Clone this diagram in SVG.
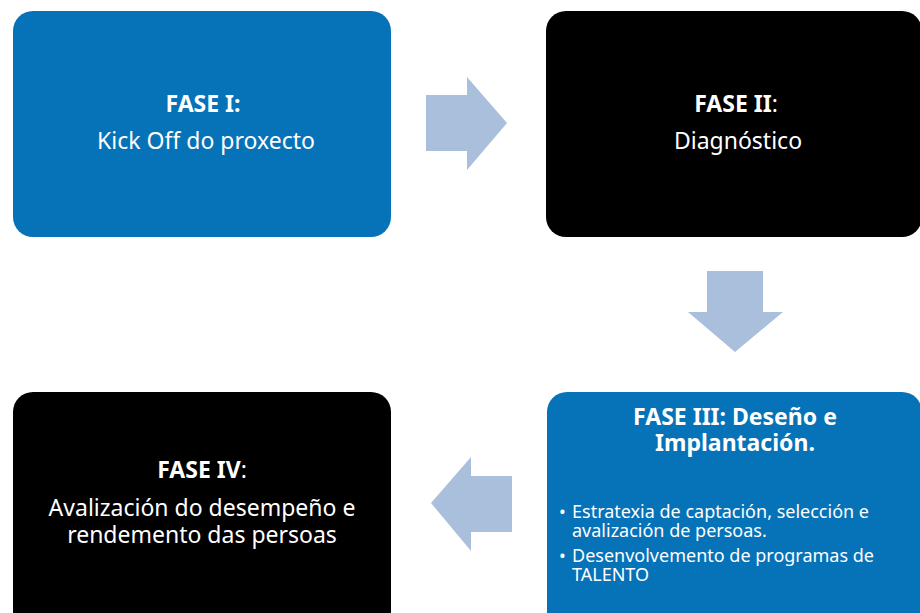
<svg xmlns="http://www.w3.org/2000/svg" width="920" height="613" viewBox="0 0 920 613">
<style>
.blue{fill:#0672B8}
.black{fill:#000000}
.arrow{fill:#AABFDC}
text{font-family:"Noto Sans","Open Sans",sans-serif;fill:#ffffff}
.t{font-size:23px;text-anchor:middle}
.b{font-weight:bold}
.s{font-size:18px}
</style>
<rect width="920" height="613" fill="#ffffff"/>
<g id="connectors">
<polygon class="arrow" points="426,95 467,95 467,77 507,123 467,170 467,151 426,151"/>
<polygon class="arrow" points="707,271 763,271 763,312 783,312 735,352 688,312 707,312"/>
<polygon class="arrow" points="512,476 471,476 471,457 431,503 471,551 471,532 512,532"/>
</g>
<g id="fase1">
<rect class="blue" x="13" y="11" width="378" height="226" rx="20"/>
<text class="t b" x="203" y="112">FASE I:</text>
<text class="t" x="206" y="149">Kick Off do proxecto</text>
</g>
<g id="fase2">
<rect class="black" x="546" y="11" width="376" height="226" rx="20"/>
<text class="t" x="736" y="112"><tspan class="b">FASE II</tspan>:</text>
<text class="t" x="738" y="149">Diagnóstico</text>
</g>
<g id="fase3">
<rect class="blue" x="547" y="392" width="375" height="240" rx="20"/>
<text class="t b" x="735" y="425">FASE III: Deseño e</text>
<text class="t b" x="735" y="451">Implantación.</text>
<text class="s" x="559" y="518">•</text>
<text class="s" x="572" y="518">Estratexia de captación, selección e</text>
<text class="s" x="572" y="537">avalización de persoas.</text>
<text class="s" x="559" y="562">•</text>
<text class="s" x="572" y="562">Desenvolvemento de programas de</text>
<text class="s" x="572" y="581">TALENTO</text>
</g>
<g id="fase4">
<rect class="black" x="13" y="392" width="378" height="240" rx="20"/>
<text class="t" x="202" y="478"><tspan class="b">FASE IV</tspan>:</text>
<text class="t" x="202" y="516">Avalización do desempeño e</text>
<text class="t" x="202" y="543">rendemento das persoas</text>
</g>
</svg>
